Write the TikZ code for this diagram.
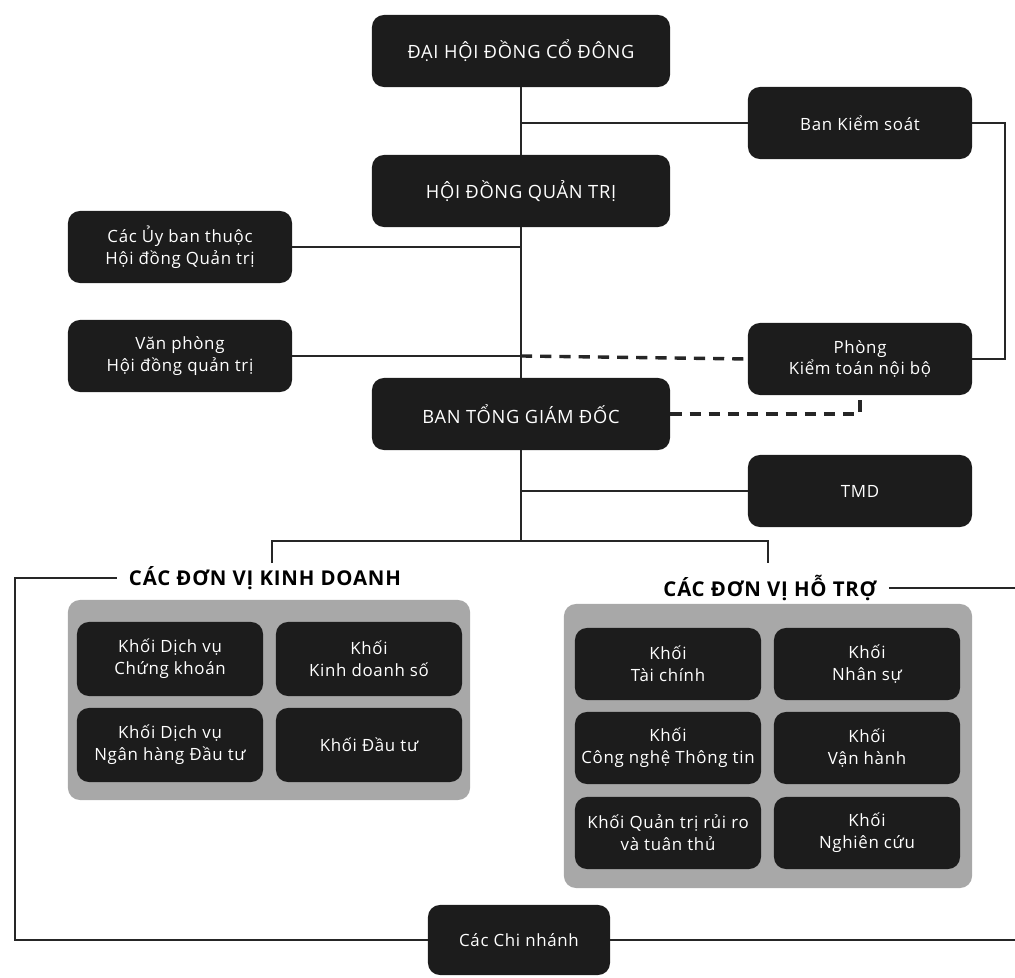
\documentclass[tikz,border=0pt]{standalone}
\usepackage{fontspec}
\setmainfont{Open Sans}[LetterSpace=4]
\usepackage{tikz}
\definecolor{boxblack}{HTML}{1C1C1C}
\definecolor{panelgrey}{HTML}{A8A8A8}
\definecolor{linegrey}{HTML}{262626}

\begin{document}
\begin{tikzpicture}[x=0.025cm, y=-0.025cm,
    bigbox/.style={fill=boxblack, rounded corners=0.3cm, text=white, align=center,
      minimum width=7.45cm, minimum height=1.8cm, font=\fontsize{13}{16}\selectfont},
    sidebox/.style={bigbox, minimum width=5.6cm, font=\fontsize{12}{15.5}\selectfont},
    unitbox/.style={sidebox, minimum width=4.65cm, minimum height=1.85cm},
    panel/.style={fill=panelgrey, rounded corners=0.3cm},
    heading/.style={font=\bfseries\fontsize{14.5}{17}\selectfont, inner sep=0.3cm},
    conn/.style={line width=1.6pt, draw=linegrey},
    dashconn/.style={conn, line width=2.4pt, dash pattern=on 0.28cm off 0.2cm}]
      \useasboundingbox (0,0) rectangle (1015,978);
      % top of the tree
      \node at (521,51)[bigbox] (dhdcd){ĐẠI HỘI ĐỒNG CỔ ĐÔNG};
      \node at (521,191)[bigbox] (hdqt){HỘI ĐỒNG QUẢN TRỊ};
      \node at (521,414)[bigbox] (btgd){BAN TỔNG GIÁM ĐỐC};
      \node at (860,123)[sidebox] (bks){Ban Kiểm soát};
      \node at (180,247)[sidebox] (uyban){Các Ủy ban thuộc\\Hội đồng Quản trị};
      \node at (180,356)[sidebox] (vanphong){Văn phòng\\Hội đồng quản trị};
      \node at (860,359)[sidebox] (ktnb){Phòng\\Kiểm toán nội bộ};
      \node at (860,491)[sidebox] (tmd){TMD};
      % khoi kinh doanh
      \node at (265,578)[heading] (kdlabel){CÁC ĐƠN VỊ KINH DOANH};
      \node at (269,700)[panel, minimum width=10.05cm, minimum height=5cm] (kdpanel){};
      \node at (170,659)[unitbox] (kd1){Khối Dịch vụ\\Chứng khoán};
      \node at (369,659)[unitbox] (kd2){Khối\\Kinh doanh số};
      \node at (170,745)[unitbox] (kd3){Khối Dịch vụ\\Ngân hàng Đầu tư};
      \node at (369,745)[unitbox] (kd4){Khối Đầu tư};
      % khoi ho tro
      \node at (770,588)[heading] (htlabel){CÁC ĐƠN VỊ HỖ TRỢ};
      \node at (768,746)[panel, minimum width=10.2cm, minimum height=7.1cm] (htpanel){};
      \node at (668,664)[unitbox, minimum height=1.8cm] (ht1){Khối\\Tài chính};
      \node at (867,664)[unitbox, minimum height=1.8cm] (ht2){Khối\\Nhân sự};
      \node at (668,748)[unitbox, minimum height=1.8cm] (ht3){Khối\\Công nghệ Thông tin};
      \node at (867,748)[unitbox, minimum height=1.8cm] (ht4){Khối\\Vận hành};
      \node at (668,833)[unitbox, minimum height=1.8cm] (ht5){Khối Quản trị rủi ro\\và tuân thủ};
      \node at (867,833)[unitbox, minimum height=1.8cm] (ht6){Khối\\Nghiên cứu};
      \node at (519,940)[unitbox, minimum width=4.55cm, minimum height=1.75cm] (chinhanh){Các Chi nhánh};
      % free ends
      \coordinate (jmain) at (521,541);
      \coordinate (jleft) at (272,541);
      \coordinate (jright) at (768,541);
      \coordinate (kdtop) at (272,563);
      \coordinate (httop) at (768,563);
      \coordinate (rside) at (1005,240);
      \coordinate (lcorner) at (15,940);
      \coordinate (redgetop) at (1015,588);
      \coordinate (redgebot) at (1015,940);
      % connectors
      \draw[conn] (dhdcd) -- (hdqt);
      \draw[conn] (hdqt) -- (btgd);
      \draw[conn] (btgd) -- (jmain);
      \draw[conn] (bks.west) -- (bks.west -| dhdcd.south);
      \draw[conn] (uyban.east) -- (uyban.east -| hdqt.south);
      \draw[conn] (vanphong.east) -- (vanphong.east -| hdqt.south);
      \draw[dashconn] (vanphong.east -| hdqt.south) -- (ktnb.west);
      \draw[dashconn] (btgd.east) -| (ktnb.south);
      \draw[conn] (tmd.west) -- (tmd.west -| btgd.south);
      \draw[conn] (bks.east) -| (rside) |- (ktnb.east);
      \draw[conn] (kdtop) -- (jleft) -- (jright) -- (httop);
      \draw[conn] (kdlabel.west) -| (lcorner) -- (chinhanh.west);
      \draw[conn] (htlabel.east) -- (redgetop);
      \draw[conn] (chinhanh.east) -- (redgebot);
\end{tikzpicture}
\end{document}
